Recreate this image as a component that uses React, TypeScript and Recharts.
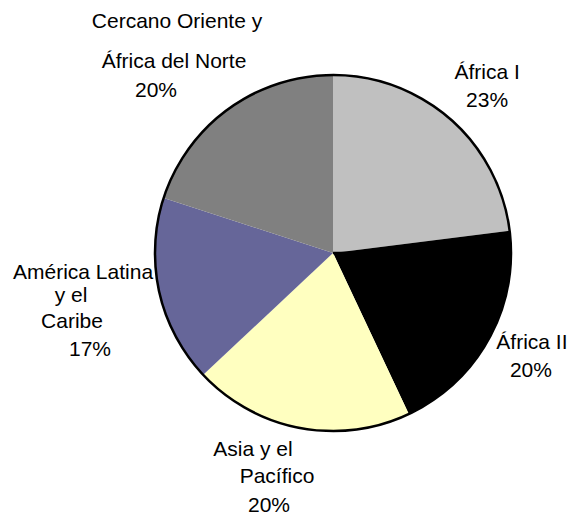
import React from 'react';
import { PieChart, Pie, Cell } from 'recharts';

const regions = [
    'África I',
    'África II',
    'Asia y el\nPacífico',
    'América Latina\ny el\nCaribe',
    'Cercano Oriente y\nÁfrica del Norte',
];
const shares = [23, 20, 20, 17, 20];
const colors = ['#c0c0c0', '#000000', '#ffffc0', '#666699', '#808080'];

// per-line offsets (dx, dy) from the label anchor, last entry is the percentage
const lineOffsets = [
    [[2, -1.5], [2, 26.5]],
    [[-2.6, -14.8], [-3.6, 13.2]],
    [[-36.9, -22.9], [-12.9, 4.1], [-20.9, 33.1]],
    [[-25.5, -24.2], [-37.5, -1.2], [-36.5, 24.8], [-18.5, 52.8]],
    [[-20.8, -38.9], [-23.8, 1.1], [-41.8, 30.1]],
];

const data = regions.map((name, i) => ({ name, value: shares[i], color: colors[i] }));
const outline = [{ name: 'outline', value: 1 }];

const RADIAN = Math.PI / 180;
const FONT = '"Liberation Sans", Arial, sans-serif';

interface labelType {
    cx: number,
    cy: number,
    midAngle: number,
    outerRadius: number,
    percent: number,
    index: number,
}

const renderLabel = ({ cx, cy, midAngle, outerRadius, percent, index }: labelType) => {
    const r = outerRadius + 52;
    const x = cx + r * Math.cos(-midAngle * RADIAN);
    const y = cy + r * Math.sin(-midAngle * RADIAN);
    const lines = [...regions[index].split('\n'), `${(percent * 100).toFixed(0)}%`];
    const offs = lineOffsets[index];
    return (
        <g key={`lbl-${index}`}>
            {lines.map((t, i) => (
                <text
                    key={i}
                    x={x + offs[i][0]}
                    y={y + offs[i][1]}
                    textAnchor="middle"
                    fill="#000"
                    fontSize={21}
                    fontFamily={FONT}
                >
                    {t}
                </text>
            ))}
        </g>
    );
};

const App: React.FC = () => {
    return (
        <div style={{ position: 'absolute', left: 0, top: 0, width: 571, height: 517 }}>
            <PieChart width={571} height={517} margin={{ top: 0, right: 0, bottom: 0, left: 0 }}>
                <Pie
                    data={data}
                    dataKey="value"
                    cx={333}
                    cy={253}
                    outerRadius={178}
                    startAngle={90}
                    endAngle={-270}
                    stroke="none"
                    label={renderLabel}
                    labelLine={false}
                    isAnimationActive={false}
                >
                    {data.map((entry, index) => (
                        <Cell key={`cell-${index}`} fill={entry.color} stroke="none" />
                    ))}
                </Pie>
                <Pie
                    data={outline}
                    dataKey="value"
                    cx={333}
                    cy={253}
                    outerRadius={178}
                    fill="none"
                    stroke="#000"
                    strokeWidth={2.5}
                    isAnimationActive={false}
                />
            </PieChart>
        </div>
    );
};

export default App;
